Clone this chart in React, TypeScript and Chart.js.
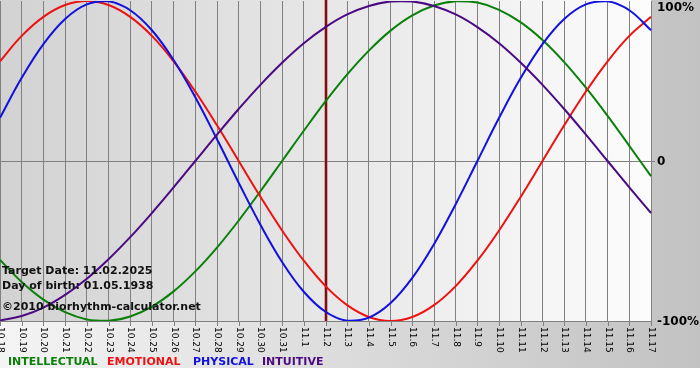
import React, { useEffect, useRef } from "react";
import { Chart, registerables } from "chart.js";

Chart.register(...registerables);

const dateLabels = [
  "10.18", "10.19", "10.20", "10.21", "10.22", "10.23", "10.24", "10.25", "10.26", "10.27",
  "10.28", "10.29", "10.30", "10.31", "11.1", "11.2", "11.3", "11.4", "11.5", "11.6",
  "11.7", "11.8", "11.9", "11.10", "11.11", "11.12", "11.13", "11.14", "11.15", "11.16", "11.17",
];

const intellectual = [
  -61.8, -75.6, -86.6, -94.5, -99.0, -99.9, -97.2, -91.0, -81.5, -69.0,
  -54.1, -37.2, -18.9, 0, 18.9, 37.2, 54.1, 69.0, 81.5, 91.0,
  97.2, 99.9, 99.0, 94.5, 86.6, 75.6, 61.8, 45.8, 28.2, 9.5, -9.5,
];
const emotional = [
  62.3, 78.2, 90.1, 97.5, 100, 97.5, 90.1, 78.2, 62.3, 43.4,
  22.3, 0, -22.3, -43.4, -62.3, -78.2, -90.1, -97.5, -100, -97.5,
  -90.1, -78.2, -62.3, -43.4, -22.3, 0, 22.3, 43.4, 62.3, 78.2, 90.1,
];
const physical = [
  27.0, 52.0, 73.1, 88.8, 97.9, 99.8, 94.2, 81.7, 63.1, 39.8,
  13.6, -13.6, -39.8, -63.1, -81.7, -94.2, -99.8, -97.9, -88.8, -73.1,
  -52.0, -27.0, 0, 27.0, 52.0, 73.1, 88.8, 97.9, 99.8, 94.2, 81.7,
];
const intuitive = [
  -99.7, -96.9, -91.6, -83.7, -73.6, -61.4, -47.6, -32.5, -16.5, 0,
  16.5, 32.5, 47.6, 61.4, 73.6, 83.7, 91.6, 96.9, 99.7, 99.7,
  96.9, 91.6, 83.7, 73.6, 61.4, 47.6, 32.5, 16.5, 0, -16.5, -32.5,
];

const yTickLabels = [
  { value: 100, text: "100%" },
  { value: 0, text: "0" },
  { value: -100, text: "-100%" },
];
const markerLabel = "11.2";
const infoLines = [
  { text: "Target Date: 11.02.2025", y: 271 },
  { text: "Day of birth: 01.05.1938", y: 286 },
  { text: "\u00A92010 biorhythm-calculator.net", y: 307 },
];
const legendItems = [
  { text: "INTELLECTUAL", color: "#0a800a", x: 8 },
  { text: "EMOTIONAL", color: "#ee1111", x: 107 },
  { text: "PHYSICAL", color: "#1111dd", x: 193 },
  { text: "INTUITIVE", color: "#4b0a82", x: 262 },
];

const COLORS = {
  intellectual: "#0a800a",
  emotional: "#ee1111",
  physical: "#1111dd",
  intuitive: "#4b0a82",
};

const decorPlugin = {
  id: "decor",
  beforeDraw(chart: any) {
    const { ctx, chartArea, width, height } = chart;
    ctx.save();
    const g = ctx.createLinearGradient(0, 0, width, 0);
    g.addColorStop(0, "#f4f4f4");
    g.addColorStop(1, "#c2c2c2");
    ctx.fillStyle = g;
    ctx.fillRect(0, 0, width, 368);
    ctx.fillStyle = "#ffffff";
    ctx.fillRect(0, 368, width, height - 368);
    const g2 = ctx.createLinearGradient(chartArea.left, 0, chartArea.right, 0);
    g2.addColorStop(0, "#d2d2d2");
    g2.addColorStop(1, "#fcfcfc");
    ctx.fillStyle = g2;
    ctx.fillRect(chartArea.left, chartArea.top - 1, chartArea.right - chartArea.left, chartArea.bottom - chartArea.top + 1);
    ctx.restore();
  },
  beforeDatasetsDraw(chart: any) {
    const { ctx, chartArea, scales } = chart;
    const idx = dateLabels.indexOf(markerLabel);
    const x = Math.round(scales.x.getPixelForValue(idx));
    ctx.save();
    ctx.fillStyle = "#c06060";
    ctx.fillRect(x - 1.5, 0, 3, chartArea.bottom);
    ctx.fillStyle = "#7a1010";
    ctx.fillRect(x - 1, 0, 2, chartArea.bottom);
    ctx.restore();
  },
  afterDraw(chart: any) {
    const { ctx, chartArea, scales } = chart;
    ctx.save();
    // x tick marks and rotated labels
    ctx.strokeStyle = "#808080";
    ctx.lineWidth = 1;
    ctx.fillStyle = "#000000";
    ctx.font = '9px "DejaVu Sans"';
    dateLabels.forEach((lab, i) => {
      const x = Math.round(scales.x.getPixelForValue(i)) + 0.5;
      ctx.beginPath();
      ctx.moveTo(x, chartArea.bottom);
      ctx.lineTo(x, chartArea.bottom + 5);
      ctx.stroke();
      ctx.save();
      ctx.translate(x, chartArea.bottom + 6);
      ctx.rotate(Math.PI / 2);
      ctx.textAlign = "left";
      ctx.textBaseline = "middle";
      ctx.fillText(lab, 0, 0);
      ctx.restore();
    });
    // zero tick on right
    const y0 = Math.round(scales.y.getPixelForValue(0)) + 0.5;
    ctx.beginPath();
    ctx.moveTo(chartArea.right, y0);
    ctx.lineTo(chartArea.right + 4, y0);
    ctx.stroke();
    // y labels
    ctx.font = 'bold 12px "DejaVu Sans"';
    ctx.textAlign = "left";
    ctx.textBaseline = "middle";
    yTickLabels.forEach((t) => {
      let y = scales.y.getPixelForValue(t.value);
      if (t.value === 100) y += 6;
      ctx.fillText(t.text, chartArea.right + 6, y + 1);
    });
    // info texts
    ctx.font = 'bold 11px "DejaVu Sans"';
    ctx.fillStyle = "#111111";
    infoLines.forEach((l) => ctx.fillText(l.text, 2, l.y));
    // legend
    ctx.font = 'bold 11px "DejaVu Sans"';
    legendItems.forEach((l) => {
      ctx.fillStyle = l.color;
      ctx.fillText(l.text, l.x, 362);
    });
    ctx.restore();
  },
};

export default function App() {
  const ref = useRef<HTMLCanvasElement>(null);
  useEffect(() => {
    if (!ref.current) return;
    const mk = (label: string, data: number[], color: string) => ({
      label,
      data,
      borderColor: color,
      backgroundColor: color,
      borderWidth: 2,
      pointRadius: 0,
      tension: 0.4,
      fill: false,
    });
    const chart = new Chart(ref.current, {
      type: "line",
      data: {
        labels: dateLabels,
        datasets: [
          mk("INTUITIVE", intuitive, COLORS.intuitive),
          mk("PHYSICAL", physical, COLORS.physical),
          mk("EMOTIONAL", emotional, COLORS.emotional),
          mk("INTELLECTUAL", intellectual, COLORS.intellectual),
        ],
      },
      options: {
        responsive: false,
        animation: false,
        devicePixelRatio: 1,
        layout: { padding: { left: 0, right: 49, top: 1, bottom: 59 } },
        plugins: { legend: { display: false }, tooltip: { enabled: false } },
        scales: {
          x: {
            type: "category",
            offset: false,
            grid: { color: "#808080", drawTicks: false, lineWidth: 1 },
            border: { display: false },
            ticks: { display: false },
            afterFit: (s: any) => { s.height = 0; },
          },
          y: {
            min: -100,
            max: 100,
            grid: {
              drawTicks: false,
              color: (c: any) => (c.tick && (c.tick.value === 0 || c.tick.value === -100) ? "#808080" : "rgba(0,0,0,0)"),
            },
            border: { display: false },
            ticks: { display: false, stepSize: 100 },
            afterFit: (s: any) => { s.width = 0; },
          },
        },
      },
      plugins: [decorPlugin],
    } as any);
    return () => chart.destroy();
  }, []);
  return (
    <div style={{ position: "absolute", left: 0, top: 0, width: 700, height: 380 }}>
      <canvas ref={ref} width={700} height={380} />
    </div>
  );
}
